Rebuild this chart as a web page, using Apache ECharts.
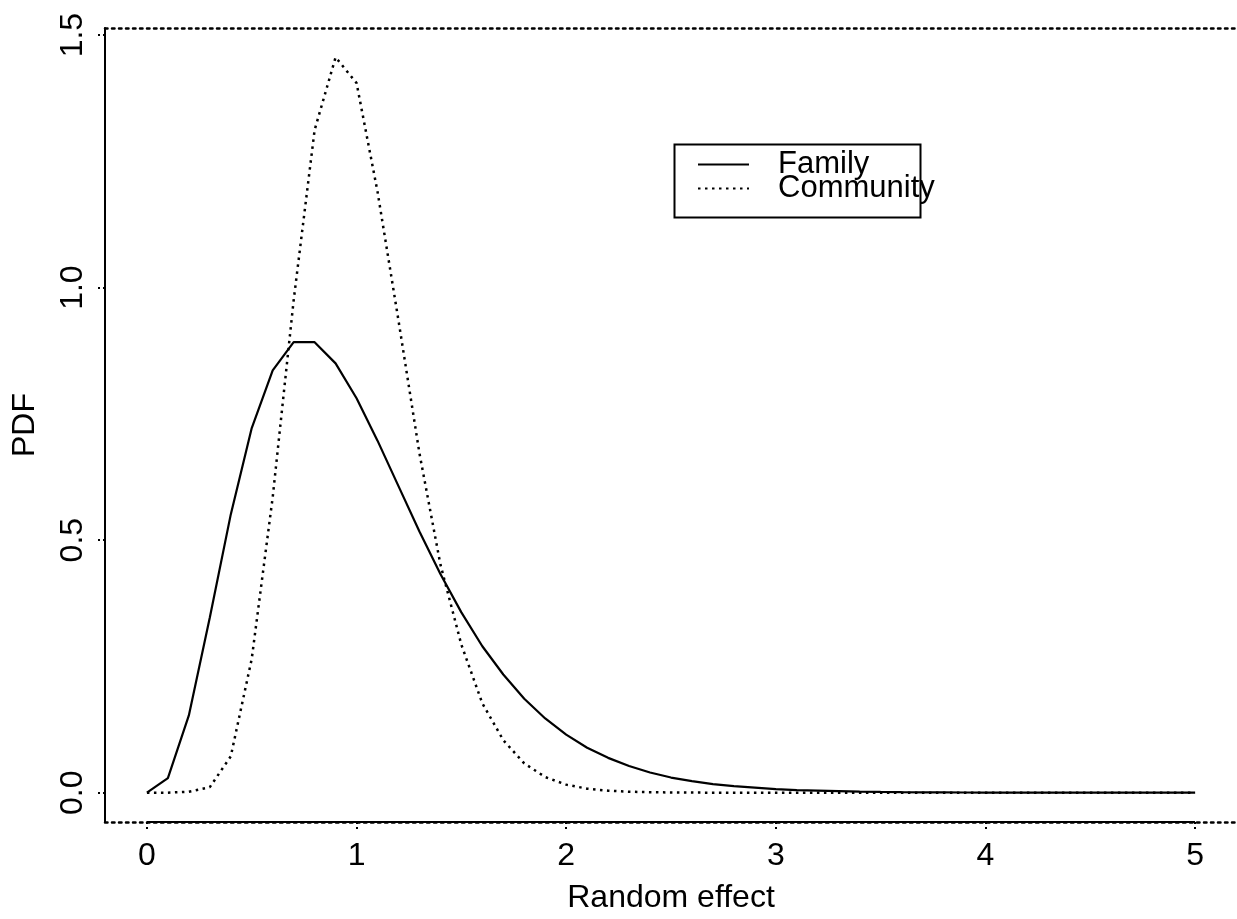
<!DOCTYPE html>
<html>
<head>
<meta charset="utf-8">
<script src="https://cdn.jsdelivr.net/npm/echarts@6/dist/echarts.min.js"></script>
<style>
  html, body { margin: 0; padding: 0; background: #fff; overflow: hidden; }
  #chart { width: 100vw; height: 100vh; }
</style>
</head>
<body>
<div id="chart"></div>
<script>
// Random effect grid, 0 to 5 in steps of 0.1
const randomEffect = [
  0.0, 0.1, 0.2, 0.3, 0.4, 0.5, 0.6, 0.7, 0.8, 0.9,
  1.0, 1.1, 1.2, 1.3, 1.4, 1.5, 1.6, 1.7, 1.8, 1.9,
  2.0, 2.1, 2.2, 2.3, 2.4, 2.5, 2.6, 2.7, 2.8, 2.9,
  3.0, 3.1, 3.2, 3.3, 3.4, 3.5, 3.6, 3.7, 3.8, 3.9,
  4.0, 4.1, 4.2, 4.3, 4.4, 4.5, 4.6, 4.7, 4.8, 4.9,
  5.0
];

// Density of the family-level random effect
const familyPdf = [
  0.000, 0.029, 0.153, 0.347, 0.551, 0.722, 0.836, 0.892, 0.892, 0.850,
  0.781, 0.697, 0.607, 0.517, 0.433, 0.357, 0.290, 0.234, 0.186, 0.147,
  0.115, 0.089, 0.069, 0.053, 0.040, 0.030, 0.023, 0.017, 0.013, 0.010,
  0.007, 0.005, 0.004, 0.003, 0.002, 0.0015, 0.0011, 0.0008, 0.0006, 0.0004,
  0.0003, 0.0002, 0.0002, 0.0001, 0.0001, 0.0001, 0.0001, 0.0000, 0.0000, 0.0000,
  0.0000
];

// Density of the community-level random effect
const communityPdf = [
  0.000, 0.000, 0.002, 0.011, 0.072, 0.265, 0.585, 0.975, 1.312, 1.456,
  1.405, 1.190, 0.935, 0.672, 0.452, 0.293, 0.177, 0.104, 0.058, 0.031,
  0.016, 0.008, 0.004, 0.002, 0.001, 0.0005, 0.0002, 0.0001, 0.0000, 0.0000,
  0.0000, 0.0000, 0.0000, 0.0000, 0.0000, 0.0000, 0.0000, 0.0000, 0.0000, 0.0000,
  0.0000, 0.0000, 0.0000, 0.0000, 0.0000, 0.0000, 0.0000, 0.0000, 0.0000, 0.0000,
  0.0000
];

const xTicks = [0, 1, 2, 3, 4, 5];
const yTicks = [0.0, 0.5, 1.0, 1.5];

const X_MIN = -0.2, X_MAX = 5.2;
const Y_MIN = -0.058, Y_MAX = 1.514;

const FONT = '"Liberation Sans", Arial, Helvetica, sans-serif';
const INK = '#000';
const DOT = [2.5, 4.5];
const LABEL_SIZE = 32;

const pairs = (ys) => randomEffect.map((x, i) => [x, ys[i]]);

const chart = echarts.init(document.getElementById('chart'), null, { renderer: 'canvas' });

chart.setOption({
  backgroundColor: '#fff',
  animation: false,
  textStyle: { fontFamily: FONT, color: INK },
  // plot region runs past the right edge of the canvas
  grid: { left: 105, top: 28, width: 1139, height: 801, containLabel: false },
  xAxis: [
    {
      type: 'value',
      min: X_MIN,
      max: X_MAX,
      name: 'Random effect',
      nameLocation: 'middle',
      nameGap: 60,
      nameTextStyle: { fontSize: LABEL_SIZE, color: INK, fontFamily: FONT },
      axisLine: { show: true, onZero: false, lineStyle: { color: INK, width: 2.5, type: DOT } },
      axisTick: { show: true, length: 7, customValues: xTicks, lineStyle: { color: INK, width: 2, type: [2, 3] } },
      axisLabel: { customValues: xTicks, fontSize: LABEL_SIZE, color: INK, margin: 18, fontFamily: FONT },
      splitLine: { show: false }
    },
    {
      // upper edge of the plot frame
      type: 'value',
      position: 'top',
      min: X_MIN,
      max: X_MAX,
      axisLine: { show: true, onZero: false, lineStyle: { color: INK, width: 2.5, type: DOT } },
      axisTick: { show: false },
      axisLabel: { show: false },
      splitLine: { show: false }
    }
  ],
  yAxis: {
    type: 'value',
    min: Y_MIN,
    max: Y_MAX,
    name: 'PDF',
    nameLocation: 'middle',
    nameGap: 64,
    nameRotate: 90,
    nameTextStyle: { fontSize: LABEL_SIZE, color: INK, fontFamily: FONT },
    axisLine: { show: true, onZero: false, lineStyle: { color: INK, width: 2 } },
    axisTick: { show: true, length: 7, customValues: yTicks, lineStyle: { color: INK, width: 2, type: [2, 3] } },
    axisLabel: {
      customValues: yTicks,
      rotate: 90,
      fontSize: LABEL_SIZE,
      color: INK,
      margin: 16,
      fontFamily: FONT,
      formatter: (v) => v.toFixed(1)
    },
    splitLine: { show: false }
  },
  legend: {
    orient: 'vertical',
    left: 697,
    top: 149,
    itemGap: -7,
    itemWidth: 51,
    itemHeight: 14,
    padding: 0,
    itemStyle: { opacity: 0 },
    lineStyle: { width: 2 },
    textStyle: { fontSize: 31, color: INK, fontFamily: FONT, lineHeight: 26, padding: [0, 0, 0, 24] },
    data: ['Family', 'Community']
  },
  graphic: [
    {
      type: 'rect',
      left: 672,
      top: 142,
      shape: { width: 246, height: 73 },
      style: { fill: 'none', stroke: INK, lineWidth: 2 },
      z: 10
    }
  ],
  series: [
    {
      name: 'Family',
      type: 'line',
      data: pairs(familyPdf),
      symbol: 'none',
      lineStyle: { color: INK, width: 2.2, type: 'solid' },
      itemStyle: { color: INK },
      markLine: {
        // axis segment spanning the labelled range along the bottom edge
        silent: true,
        symbol: 'none',
        label: { show: false },
        lineStyle: { color: INK, width: 2, type: 'solid' },
        data: [[{ coord: [xTicks[0], Y_MIN] }, { coord: [xTicks[xTicks.length - 1], Y_MIN] }]]
      }
    },
    {
      name: 'Community',
      type: 'line',
      data: pairs(communityPdf),
      symbol: 'none',
      lineStyle: { color: INK, width: 2.5, type: DOT },
      itemStyle: { color: INK }
    }
  ]
});
</script>
</body>
</html>
